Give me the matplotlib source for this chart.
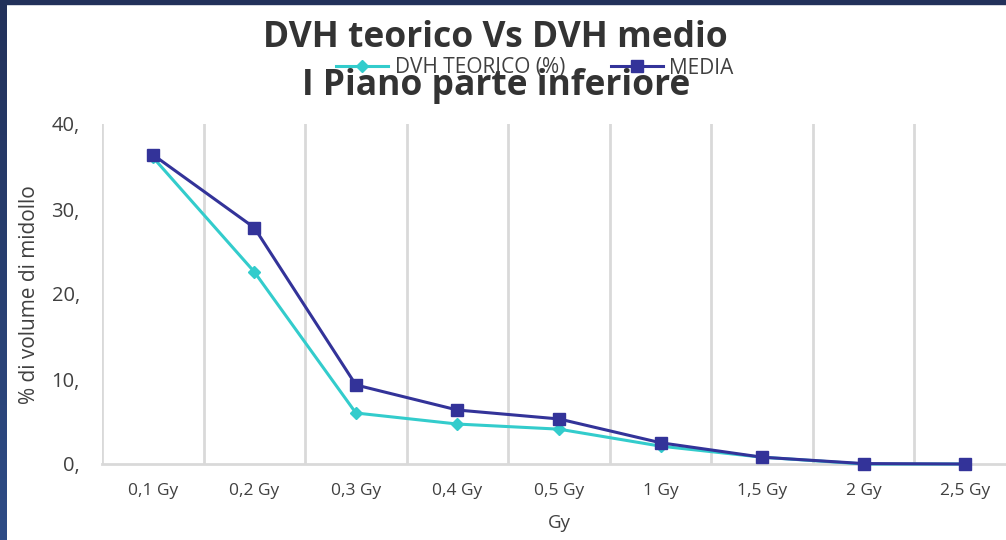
import numpy as np
import matplotlib
matplotlib.use("Agg")
import matplotlib.pyplot as plt
from matplotlib.patches import Rectangle

categories = ["0,1 Gy", "0,2 Gy", "0,3 Gy", "0,4 Gy", "0,5 Gy", "1 Gy", "1,5 Gy", "2 Gy", "2,5 Gy"]
dvh_teorico = [36.1, 22.6, 6.0, 4.7, 4.1, 2.1, 0.8, 0.0, 0.0]
media = [36.4, 27.8, 9.3, 6.35, 5.3, 2.5, 0.8, 0.05, 0.0]
y_ticks = [0, 10, 20, 30, 40]
y_ticklabels = ["0,", "10,", "20,", "30,", "40,"]

plt.rcParams["font.family"] = ["Open Sans", "DejaVu Sans"]

W, H = 1006, 540
fig = plt.figure(figsize=(W / 100, H / 100), dpi=100)
fig.patch.set_facecolor("white")

# dark frame strips along the top and left edges
grad = np.linspace(0, 1, 256).reshape(-1, 1)
cmap = matplotlib.colors.LinearSegmentedColormap.from_list("frame", ["#22315a", "#2e4c86"])
left_ax = fig.add_axes([0, 0, 7 / W, 1])
left_ax.imshow(grad, aspect="auto", cmap=cmap, origin="upper")
left_ax.set_axis_off()
fig.add_artist(Rectangle((0, 1 - 4 / H), 1, 4 / H, transform=fig.transFigure,
                         color="#22315a", zorder=5))

x0, x1 = 102 / W, 1016 / W
y0, y1 = 1 - 464 / H, 1 - 124 / H
ax = fig.add_axes([x0, y0, x1 - x0, y1 - y0])
x = np.arange(len(categories))
ax.set_xlim(-0.5, len(categories) - 0.5)
ax.set_ylim(0, 40)

for b in np.arange(-0.5, len(categories) + 0.5, 1.0):
    ax.axvline(b, color="#d9d9d9", lw=2, zorder=1)
for s in ["left", "right", "top"]:
    ax.spines[s].set_visible(False)
ax.spines["bottom"].set_color("#d9d9d9")
ax.spines["bottom"].set_linewidth(2)

l1, = ax.plot(x, dvh_teorico, color="#33cccc", lw=2.2, marker="D", ms=6,
              label="DVH TEORICO (%)", zorder=3, clip_on=False)
l2, = ax.plot(x, media, color="#333399", lw=2.2, marker="s", ms=8,
              label="MEDIA", zorder=4, clip_on=False)

ax.set_xticks(x)
ax.set_xticklabels(categories, fontsize=12.5, color="#404040")
ax.set_yticks(y_ticks)
ax.set_yticklabels(y_ticklabels, fontsize=14.5, color="#404040")
ax.tick_params(axis="both", length=0)
ax.tick_params(axis="x", pad=14)
ax.tick_params(axis="y", pad=16)

fig.text(30 / W, 1 - 295 / H, "% di volume di midollo", rotation=90, ha="center",
         va="center", fontsize=15, color="#404040")
fig.text(559 / W, 1 - 523 / H, "Gy", ha="center", va="center", fontsize=13.5, color="#404040")

fig.text(495 / W, 1 - 38 / H, "DVH teorico Vs DVH medio", ha="center", va="center",
         fontsize=25.5, fontweight="bold", color="#333333")
fig.text(496 / W, 1 - 86 / H, "I Piano parte inferiore", ha="center", va="center",
         fontsize=25.5, fontweight="bold", color="#333333")

fig.legend(handles=[l1, l2], loc="center", bbox_to_anchor=(535 / W, 1 - 68 / H),
           ncol=2, frameon=False, fontsize=15, handlelength=2.5, columnspacing=2.2,
           handletextpad=0.3, labelcolor="#404040", borderpad=0, borderaxespad=0)

fig.savefig("out.png", dpi=100, facecolor="white")
